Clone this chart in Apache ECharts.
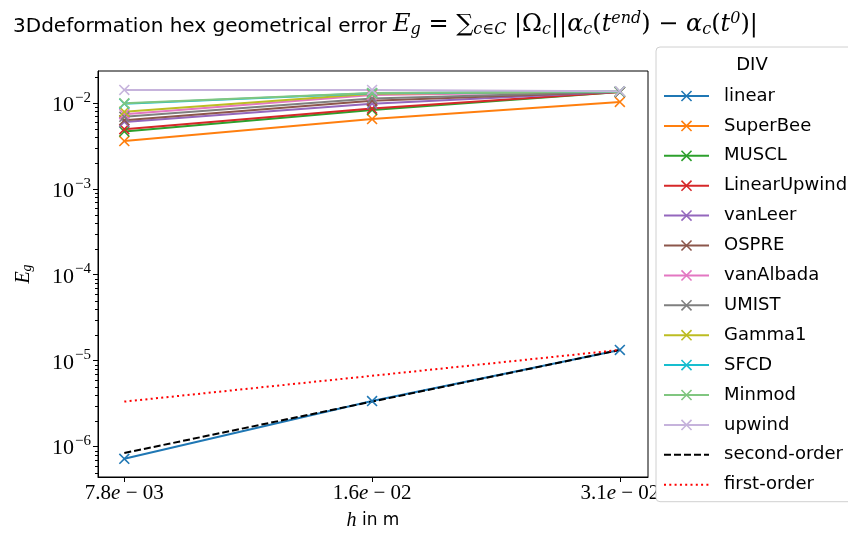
<!DOCTYPE html>
<html>
<head>
<meta charset="utf-8">
<script src="https://cdn.jsdelivr.net/npm/echarts@6/dist/echarts.min.js"></script>
<style>html,body{margin:0;padding:0;background:#fff}#c{width:848px;height:536px}</style>
</head>
<body>
<div id="c"></div>
<script>
// ---- data ----
const h = [0.0078125, 0.015625, 0.03125];
const xTickLabels = ['7.8e-03', '1.6e-02', '3.1e-02'];
const yTickValues = [1e-6, 1e-5, 1e-4, 1e-3, 1e-2];
const yTickExponents = ['-6', '-5', '-4', '-3', '-2'];
const seriesNames = ['linear','SuperBee','MUSCL','LinearUpwind','vanLeer','OSPRE','vanAlbada','UMIST','Gamma1','SFCD','Minmod','upwind','second-order','first-order'];
const linear       = [7.1e-7, 3.35e-6, 1.32e-5];
const SuperBee     = [3.6e-3, 6.5e-3, 1.03e-2];
const MUSCL        = [4.65e-3, 8.3e-3, 1.34e-2];
const LinearUpwind = [4.95e-3, 8.6e-3, 1.34e-2];
const vanLeer      = [6.0e-3, 9.8e-3, 1.35e-2];
const OSPRE        = [6.3e-3, 1.06e-2, 1.35e-2];
const vanAlbada    = [7.4e-3, 1.24e-2, 1.36e-2];
const UMIST        = [6.9e-3, 1.13e-2, 1.35e-2];
const Gamma1       = [7.9e-3, 1.28e-2, 1.36e-2];
const SFCD         = [9.8e-3, 1.30e-2, 1.36e-2];
const Minmod       = [9.9e-3, 1.31e-2, 1.36e-2];
const upwind       = [1.42e-2, 1.42e-2, 1.37e-2];
const secondOrder  = [8.3e-7, 3.3e-6, 1.32e-5];
const firstOrder   = [3.3e-6, 6.6e-6, 1.32e-5];

const values = [linear,SuperBee,MUSCL,LinearUpwind,vanLeer,OSPRE,vanAlbada,UMIST,Gamma1,SFCD,Minmod,upwind,secondOrder,firstOrder];
const colors = ['#1f77b4','#ff7f0e','#2ca02c','#d62728','#9467bd','#8c564b','#e377c2','#7f7f7f','#bcbd22','#17becf','#80c680','#c6b3dc','#000000','#ff0000'];

const X_MIN = 0.007258, X_MAX = 0.03381;
const Y_MIN = 4.36e-7, Y_MAX = 0.0236;

const minorY = [];
for (let k = -7; k <= -2; k++) for (let m = 2; m <= 9; m++) {
  const v = m * Math.pow(10, k);
  if (v > Y_MIN && v < Y_MAX) minorY.push(v);
}

const XSYM = 'path://M0,1L1,0L5,4L9,0L10,1L6,5L10,9L9,10L5,6L1,10L0,9L4,5Z';
const SERIF = 'Liberation Serif';
const SANS = 'DejaVu Sans';
const TSERIF = 'DejaVu Serif';

const series = seriesNames.map((name, i) => {
  const isRef = i >= 12;
  return {
    name, type: 'line', xAxisIndex: 0, yAxisIndex: 0,
    data: h.map((x, j) => [x, values[i][j]]),
    symbol: XSYM,
    symbolSize: 11,
    showSymbol: !isRef,
    color: colors[i],
    itemStyle: { color: colors[i] },
    lineStyle: { color: colors[i], width: 2, type: i === 12 ? [7, 3] : (i === 13 ? [2, 3.3] : 'solid') },
    emphasis: { disabled: true },
    animation: false
  };
});

const legendData = seriesNames.map((name, i) => i >= 12 ? { name, itemStyle: { opacity: 0 } } : { name });

const M = { fontFamily: TSERIF, fontSize: 24, color: '#000', fontWeight: 'normal' };
const MI = Object.assign({}, M, { fontStyle: 'italic' });
const chart = echarts.init(document.getElementById('c'), null, { renderer: 'canvas' });
const gridRect = { left: 98, top: 71, width: 550, height: 407 };
chart.setOption({
  backgroundColor: '#fff',
  animation: false,
  title: {
    left: 8, top: 2,
    text: '{t|3Ddeformation hex geometrical error }{i|E}{sb|g}{r| = }{sum|∑}{sb|c∈C}{r| |Ω}{sb|c}{r|||}{i|α}{sb|c}{r|(}{i|t}{sp|end}{r|) − }{i|α}{sb|c}{r|(}{i|t}{sp|0}{r|)|}',
    textStyle: {
      fontWeight: 'normal',
      rich: {
        t: { fontFamily: SANS, fontSize: 20, color: '#000', fontWeight: 'normal', lineHeight: 36, padding: [4, 0, 0, 0] },
        i: MI,
        r: M,
        sum: Object.assign({}, M, { fontSize: 24 }),
        sb: Object.assign({}, MI, { fontSize: 16, padding: [10, 0, 0, 0] }),
        sp: Object.assign({}, MI, { fontSize: 16, padding: [0, 0, 12, 0] })
      }
    }
  },
  graphic: [{
    type: 'text', z: 100, x: 752, y: 65,
    style: { text: 'DIV', fontFamily: SANS, fontSize: 18, fill: '#000', align: 'center', verticalAlign: 'middle' }
  }],
  legend: {
    left: 656, top: 47, orient: 'vertical',
    padding: [40, 80, 8, 7],
    itemWidth: 45, itemHeight: 14, itemGap: 11.9,
    backgroundColor: '#fff', borderColor: '#d0d0d0', borderWidth: 1, borderRadius: 4,
    textStyle: { fontFamily: SANS, fontSize: 18, color: '#000', padding: [0, 0, 0, 10] },
    data: legendData
  },
  grid: [
    Object.assign({ show: true, borderColor: '#000', borderWidth: 1, backgroundColor: 'transparent' }, gridRect),
    Object.assign({ show: false }, gridRect)
  ],
  xAxis: [{
    type: 'log', logBase: 2, min: X_MIN, max: X_MAX, gridIndex: 0,
    axisLine: { show: true, lineStyle: { color: '#000', width: 1 } },
    axisTick: { show: true, length: 5, lineStyle: { color: '#000' }, customValues: h },
    splitLine: { show: false },
    axisLabel: {
      customValues: h, margin: 6, color: '#000',
      formatter: (v) => {
        let idx = 0, best = Infinity;
        h.forEach((x, j) => { const d = Math.abs(Math.log(x) - Math.log(v)); if (d < best) { best = d; idx = j; } });
        const parts = xTickLabels[idx].split('e');
        return '{n|' + parts[0] + '}{i|e}{n| − ' + parts[1].replace('-', '') + '}';
      },
      rich: {
        n: { fontFamily: SERIF, fontSize: 21, color: '#000' },
        i: { fontFamily: SERIF, fontStyle: 'italic', fontSize: 21, color: '#000' }
      }
    },
    name: '{i|h}{s| in m}', nameLocation: 'middle', nameGap: 34,
    nameTextStyle: {
      rich: {
        i: { fontFamily: SERIF, fontStyle: 'italic', fontSize: 20, color: '#000' },
        s: { fontFamily: SANS, fontSize: 17, color: '#000' }
      }
    }
  }, {
    type: 'log', logBase: 2, min: X_MIN, max: X_MAX, gridIndex: 1, show: false
  }],
  yAxis: [{
    type: 'log', logBase: 10, min: Y_MIN, max: Y_MAX, gridIndex: 0,
    axisLine: { show: true, lineStyle: { color: '#000', width: 1 } },
    axisTick: { show: true, length: 5, lineStyle: { color: '#000' }, customValues: yTickValues },
    splitLine: { show: false },
    axisLabel: {
      customValues: yTickValues, margin: 7, color: '#000',
      formatter: (v) => {
        let idx = 0, best = Infinity;
        yTickValues.forEach((x, j) => { const d = Math.abs(Math.log(x) - Math.log(v)); if (d < best) { best = d; idx = j; } });
        return '{b|10}{s|−' + yTickExponents[idx].replace('-', '') + '}';
      },
      rich: {
        b: { fontFamily: SERIF, fontSize: 22, color: '#000', padding: [5, 1, 0, 0] },
        s: { fontFamily: SERIF, fontSize: 15, color: '#000', padding: [0, 0, 10, 0] }
      }
    },
    name: '{i|E}{s|g}', nameLocation: 'middle', nameGap: 64, nameRotate: 90,
    nameTextStyle: {
      rich: {
        i: { fontFamily: SERIF, fontStyle: 'italic', fontSize: 20, color: '#000' },
        s: { fontFamily: SERIF, fontStyle: 'italic', fontSize: 14, color: '#000', padding: [6, 0, 0, 0] }
      }
    }
  }, {
    type: 'log', logBase: 10, min: Y_MIN, max: Y_MAX, gridIndex: 1,
    axisLine: { show: false },
    axisTick: { show: true, length: 3, lineStyle: { color: '#000' }, customValues: minorY },
    axisLabel: { show: false },
    splitLine: { show: false }
  }],
  series: series
});
</script>
</body>
</html>
